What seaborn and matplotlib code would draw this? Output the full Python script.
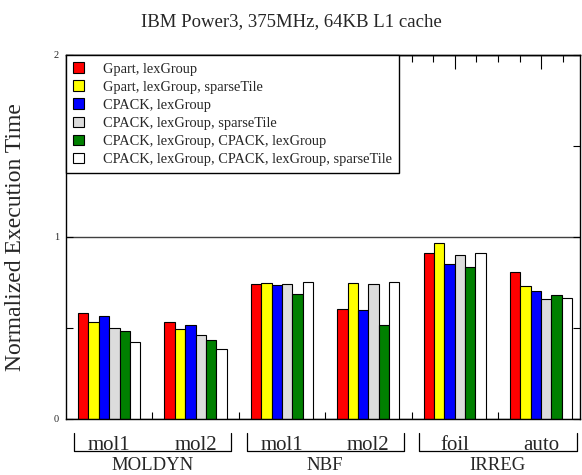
import numpy as np
import pandas as pd
import matplotlib
matplotlib.use("Agg")
import matplotlib.pyplot as plt
import matplotlib.transforms as mtransforms
import seaborn as sns

# benchmarks along the x axis
suites = ["MOLDYN", "MOLDYN", "NBF", "NBF", "IRREG", "IRREG"]
benchmarks = ["mol1", "mol2", "mol1", "mol2", "foil", "auto"]
suite_names = ["MOLDYN", "NBF", "IRREG"]

configs = [
    "Gpart, lexGroup",
    "Gpart, lexGroup, sparseTile",
    "CPACK, lexGroup",
    "CPACK, lexGroup, sparseTile",
    "CPACK, lexGroup, CPACK, lexGroup",
    "CPACK, lexGroup, CPACK, lexGroup, sparseTile",
]
colors = ["#ff0000", "#ffff00", "#0000ff", "#dcdcdc", "#008000", "#ffffff"]

# normalized execution time, one list per config
gpart_lex = [0.584, 0.534, 0.740, 0.602, 0.912, 0.810]
gpart_lex_st = [0.532, 0.496, 0.750, 0.750, 0.967, 0.731]
cpack_lex = [0.567, 0.514, 0.735, 0.598, 0.853, 0.705]
cpack_lex_st = [0.499, 0.460, 0.744, 0.744, 0.901, 0.659]
cpack2_lex = [0.482, 0.435, 0.689, 0.518, 0.833, 0.683]
cpack2_lex_st = [0.421, 0.383, 0.755, 0.753, 0.913, 0.663]
series = [gpart_lex, gpart_lex_st, cpack_lex, cpack_lex_st, cpack2_lex, cpack2_lex_st]

keys = [f"{s} {b}" for s, b in zip(suites, benchmarks)]
rows = []
for cfg, vals in zip(configs, series):
    for k, v in zip(keys, vals):
        rows.append({"key": k, "config": cfg, "time": v})
df = pd.DataFrame(rows)

sns.set_theme(style="white")
plt.rcParams["font.family"] = ["Liberation Serif", "DejaVu Serif"]

fig = plt.figure(figsize=(5.82, 4.75), dpi=100)
ax = fig.add_axes([66 / 582, 1 - 419 / 475, 514 / 582, 364 / 475])

sns.barplot(data=df, x="key", y="time", hue="config", order=keys,
            hue_order=configs, palette=colors, saturation=1, width=0.72,
            gap=0, edgecolor="black", linewidth=0.8, ax=ax)

ax.set_xlim(-0.5, 5.45)
ax.set_ylim(0, 2)
ax.set_xlabel("")
ax.set_ylabel("Normalized Execution Time", fontsize=17)
ax.yaxis.set_label_coords(-40 / 514, 0.5)

for sp in ax.spines.values():
    sp.set_color("black")
    sp.set_linewidth(1.0)

# y ticks
ax.set_yticks([0, 1, 2])
ax.set_yticklabels(["0", "1", "2"], fontsize=7.5)
ax.set_yticks([0.5, 1.5], minor=True)
ax.tick_params(axis="y", which="both", direction="in", left=True, right=True,
               length=5, width=0.8, color="black", pad=5)
ax.yaxis.grid(True, which="major", color="#404040", linewidth=1)
ax.set_axisbelow(True)

# x ticks: benchmark labels at centers, boundary ticks at bottom
ax.set_xticks(range(len(benchmarks)))
ax.set_xticklabels(benchmarks, fontsize=15)
ax.set_xticks(np.arange(0.5, len(benchmarks) - 1, 1.0), minor=True)
ax.tick_params(axis="x", which="major", bottom=False, top=False, pad=6)
ax.tick_params(axis="x", which="minor", bottom=True, top=False,
               direction="in", length=5, width=0.8, color="black")

top = ax.secondary_xaxis("top")
top.set_xticks(range(len(benchmarks)))
top.set_xticklabels([])
top.set_xticks(np.arange(-0.25, 5.45, 0.25), minor=True)
top.tick_params(axis="x", which="major", direction="in", length=10, width=0.8, color="black")
top.tick_params(axis="x", which="minor", direction="in", length=5, width=0.8, color="black")
top.spines["top"].set_linewidth(1.0)

# suite brackets below the benchmark labels
trans = mtransforms.blended_transform_factory(ax.transData, ax.transAxes)
y_hi, y_lo = -14 / 364, -32 / 364
for name in suite_names:
    idx = [i for i, s in enumerate(suites) if s == name]
    x0, x1 = idx[0] - 0.41, idx[-1] + 0.41
    ax.plot([x0, x0, x1, x1], [y_hi, y_lo, y_lo, y_hi], color="black",
            lw=0.9, transform=trans, clip_on=False)
    ax.text((idx[0] + idx[-1]) / 2, -46 / 364, name, transform=trans,
            ha="center", va="center", fontsize=13.5)

handles, labels = ax.get_legend_handles_labels()
leg = ax.legend(handles, labels, loc="upper left", bbox_to_anchor=(0, 1),
                borderaxespad=0, fontsize=10.4, frameon=True, fancybox=False,
                framealpha=1, edgecolor="black", handlelength=0.75,
                handleheight=0.75, handletextpad=1.3, labelspacing=0.33,
                borderpad=0.5)
leg.get_frame().set_linewidth(1.0)

fig.suptitle("IBM Power3, 375MHz, 64KB L1 cache", x=0.5, y=1 - 22 / 475,
             va="center", fontsize=13.5)

fig.savefig("out.png", dpi=100)
